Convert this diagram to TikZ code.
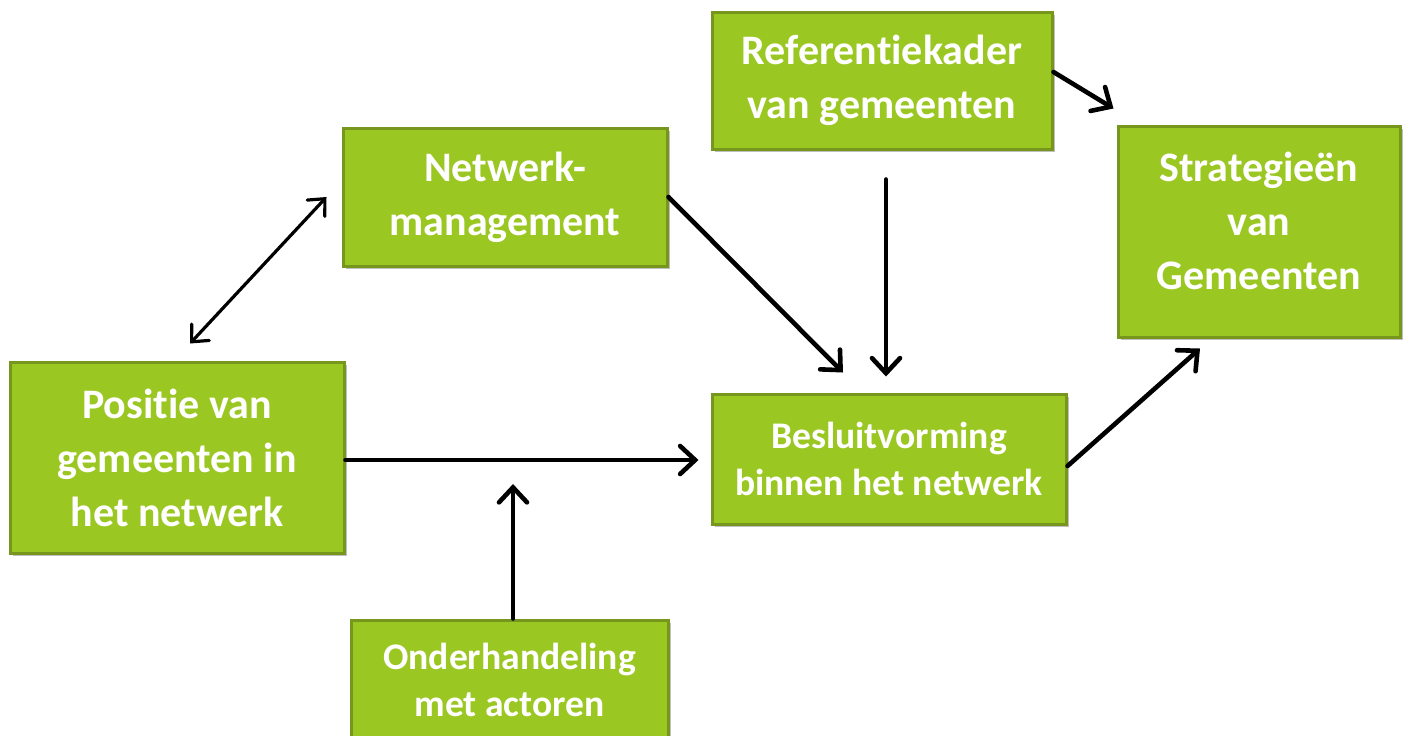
\documentclass[tikz,border=0pt]{standalone}
\usepackage{fontspec}
\setmainfont{Carlito}[RawFeature=-liga]
\usetikzlibrary{arrows.meta,shadows}
\definecolor{boxgreen}{RGB}{155,199,35}
\definecolor{boxedge}{RGB}{118,150,30}
\begin{document}
\begin{tikzpicture}[x=0.5pt,y=-0.5pt,
  box/.style 2 args={draw=boxedge,line width=1.5pt,fill=boxgreen,text=white,
    font=\bfseries\fontsize{21}{27}\selectfont,align=center,inner sep=0pt,
    minimum width={#1*0.5pt},minimum height={#2*0.5pt},
    drop shadow={shadow xshift=1.5pt,shadow yshift=-1.5pt,opacity=0.25,fill=black}},
  smallfont/.style={font=\bfseries\fontsize{18.8}{23.5}\selectfont},
  conn/.style={line width=2.3pt,line cap=round,-{Straight Barb[length=7.5pt,width=14pt,line cap=round]}},
  dconn/.style={line width=1.6pt,line cap=round,{Straight Barb[length=6.5pt,width=12pt,line cap=round]}-{Straight Barb[length=6.5pt,width=12pt,line cap=round]}}
]
\useasboundingbox (0,0) rectangle (1408,735);
\node[box={334}{191}] (pos) at (177,457.5) {Positie van\\gemeenten in\\het netwerk};
\node[box={324}{138}] (net) at (505,197) {Netwerk-\\management};
\node[box={340}{137}] (ref) at (882,80.5) {Referentiekader\\van gemeenten};
\node[box={282}{211}] (strat) at (1259,231.5) {Strategieën\\van\\Gemeenten\rule[-11pt]{0pt}{0pt}};
\node[box={354}{130},smallfont] (besl) at (889,459) {Besluitvorming\\binnen het netwerk};
\node[box={317}{120},smallfont] (onder) at (509.5,680) {Onderhandeling\\met actoren};

\draw[dconn] ([xshift=6.5pt,yshift=8.5pt]pos.north) -- ([xshift=-7.5pt]net.west);
\draw[conn] (net.east) -- ([xshift=-23pt,yshift=10pt]besl.north);
\draw[conn] ([xshift=2pt,yshift=-14.5pt]ref.south) -- ([xshift=-1.5pt,yshift=8pt]besl.north);
\draw[conn] ([yshift=4.25pt]ref.east) -- ([xshift=-1.5pt,yshift=8pt]strat.north west);
\draw[conn,shorten >=6pt] ([yshift=-1.25pt]pos.east) -- ([yshift=-1.25pt]pos.east -| besl.west);
\draw[conn,shorten >=12.5pt] ([xshift=1.75pt]onder.north) -- ([xshift=1.75pt]onder.north |- besl.west);
\draw[conn] ([yshift=-3.5pt]besl.east) -- ([xshift=-29.5pt,yshift=-5pt]strat.south);
\end{tikzpicture}
\end{document}
